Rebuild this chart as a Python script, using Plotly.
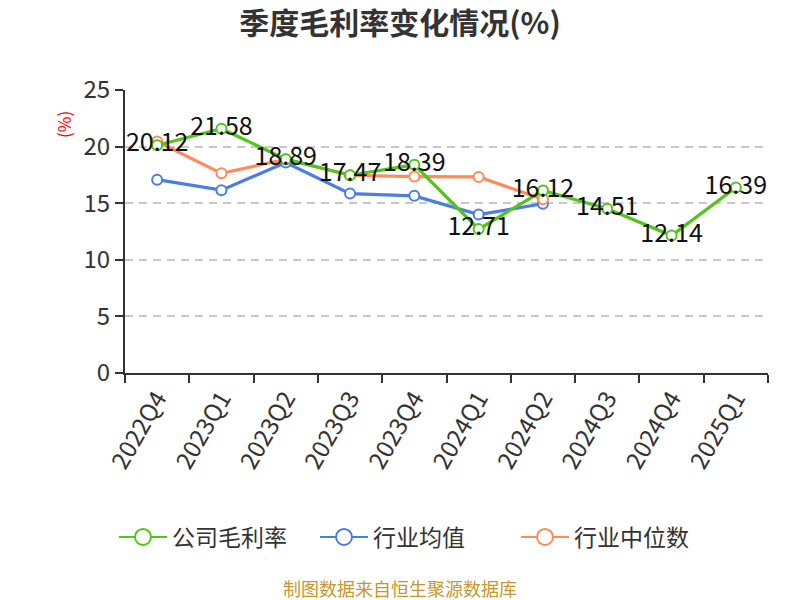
import plotly.graph_objects as go

categories = ["2022Q4", "2023Q1", "2023Q2", "2023Q3", "2023Q4",
              "2024Q1", "2024Q2", "2024Q3", "2024Q4", "2025Q1"]
company = [20.12, 21.58, 18.89, 17.47, 18.39, 12.71, 16.12, 14.51, 12.14, 16.39]
industry_mean = [17.08, 16.15, 18.6, 15.85, 15.65, 14.0, 14.95, None, None, None]
industry_median = [20.45, 17.64, 18.88, 17.47, 17.35, 17.32, 15.35, None, None, None]

FONT = "Noto Sans CJK SC"
GREEN = "#52c41a"
BLUE = "#4a7ee6"
ORANGE = "#ff8a5c"

# page offset (body margin) compensated: plot area in figure px
L, R, T, B = 117, 760, 82, 365
PW, PH = R - L, B - T
CX = 392  # horizontal centre of the page in figure px

fig = go.Figure()

def add_series(name, y, color, labels=False):
    fig.add_trace(go.Scatter(
        x=categories, y=y, name=name, showlegend=False,
        mode="lines+markers+text" if labels else "lines+markers",
        text=[f"{v:.2f}" for v in y] if labels else None,
        textposition="middle center",
        textfont=dict(family=FONT, size=25, color="#111111"),
        line=dict(color=color, width=3.2),
        marker=dict(symbol="circle", size=10, color="white",
                    line=dict(color=color, width=2)),
        connectgaps=False,
        cliponaxis=False,
    ))

def add_legend(name, color):
    fig.add_trace(go.Scatter(
        x=[None], y=[None], name=name, mode="lines+markers",
        line=dict(color=color, width=2),
        marker=dict(symbol="circle", size=18, color="white",
                    line=dict(color=color, width=2)),
    ))

add_series("行业均值", industry_mean, BLUE)
add_series("行业中位数", industry_median, ORANGE)
add_series("公司毛利率", company, GREEN, labels=True)
add_legend("公司毛利率", GREEN)
add_legend("行业均值", BLUE)
add_legend("行业中位数", ORANGE)

fig.update_layout(
    width=800, height=600,
    paper_bgcolor="white", plot_bgcolor="white",
    margin=dict(l=L, r=800 - R, t=T, b=600 - B, pad=0),
    font=dict(family=FONT, color="#333333"),
    title=dict(text="<b>季度毛利率变化情况(%)</b>", x=CX / 800, xanchor="center",
               y=1 - 15 / 600, yanchor="middle",
               font=dict(family=FONT, size=30, color="#333333")),
    showlegend=True,
    legend=dict(orientation="h", x=(106 - L) / PW, xanchor="left",
                y=(B - 529) / PH, yanchor="middle",
                font=dict(family=FONT, size=23, color="#333333"),
                itemwidth=48, entrywidth=138,
                traceorder="normal", itemsizing="trace"),
    annotations=[
        dict(text="(%)", x=(55 - L) / PW, y=(B - 117) / PH, xref="paper", yref="paper",
             showarrow=False, textangle=-90, xanchor="center", yanchor="middle",
             font=dict(family=FONT, size=17, color="#ff0000")),
        dict(text="制图数据来自恒生聚源数据库", x=(CX - L) / PW, y=(B - 580) / PH,
             xref="paper", yref="paper",
             showarrow=False, xanchor="center", yanchor="middle",
             font=dict(family=FONT, size=18, color="#c8962e")),
    ],
)

fig.update_xaxes(
    type="category", tickson="boundaries", ticks="outside", ticklen=8,
    tickcolor="#333333", tickwidth=2, showline=True, linecolor="#333333", linewidth=2,
    showgrid=False, tickangle=-60,
    tickfont=dict(family=FONT, size=24, color="#333333"),
    range=[-0.5, 9.5],
)
fig.update_yaxes(
    range=[0, 25], dtick=5, ticks="outside", ticklen=8, tickcolor="#333333",
    tickwidth=2, showline=True, linecolor="#333333", linewidth=2,
    showgrid=True, gridcolor="#c8c8c8", griddash="8px,6px", gridwidth=1.5,
    zeroline=False,
    tickfont=dict(family=FONT, size=24, color="#333333"),
)

fig.write_html("out.html")
